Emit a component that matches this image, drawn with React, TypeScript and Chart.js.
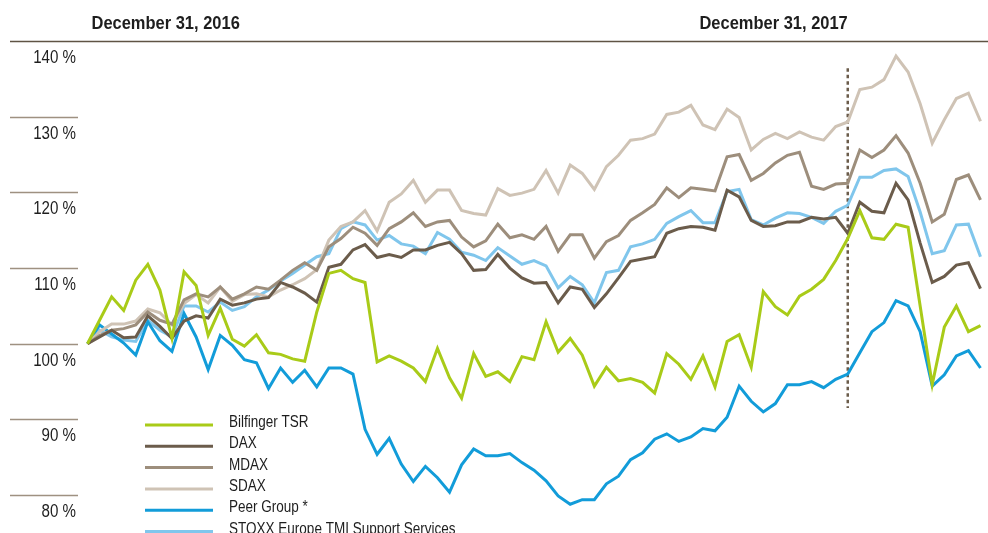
import React, { useEffect, useRef } from "react";
import { Chart, registerables } from "chart.js";

Chart.register(...registerables);

// ---- DATA ----
const bilfingerTSR = [100, 103.1, 106.2, 104.4, 108.4, 110.5, 107.1, 100.7, 109.5, 107.7, 101.1, 104.7, 100.6, 99.7, 101.2, 98.8, 98.6, 98.0, 97.7, 104.2, 109.3, 109.7, 108.6, 108.1, 97.6, 98.4, 97.7, 96.8, 95.0, 99.4, 95.5, 92.8, 98.7, 95.7, 96.3, 95.0, 98.3, 97.9, 102.9, 98.9, 100.7, 98.5, 94.4, 96.9, 95.1, 95.4, 94.9, 93.5, 98.7, 97.3, 95.3, 98.4, 94.3, 100.3, 101.2, 96.9, 106.9, 104.9, 103.8, 106.3, 107.2, 108.5, 111.0, 113.9, 117.6, 114.0, 113.8, 115.8, 115.4, 105.0, 94.6, 102.2, 105.0, 101.6, 102.4];
const dax = [100, 100.9, 101.8, 100.8, 100.9, 103.7, 102.3, 100.7, 103.0, 103.7, 103.4, 105.9, 105.1, 105.4, 105.9, 106.1, 108.1, 107.5, 106.7, 105.5, 110.1, 110.5, 112.4, 113.1, 111.4, 111.8, 111.4, 112.4, 112.4, 113.0, 113.4, 111.9, 109.7, 109.8, 111.8, 110.0, 108.7, 108.0, 108.1, 105.4, 107.5, 107.2, 104.8, 106.6, 108.7, 110.9, 111.2, 111.5, 114.6, 115.2, 115.5, 115.4, 115.0, 120.3, 119.4, 116.3, 115.5, 115.6, 116.1, 116.1, 116.7, 116.5, 116.7, 114.6, 118.7, 117.5, 117.3, 121.2, 119.0, 113.3, 108.1, 108.9, 110.4, 110.7, 107.3];
const mdax = [100, 101.1, 101.8, 102.0, 102.5, 104.2, 103.1, 102.6, 105.8, 106.6, 106.2, 107.5, 105.9, 106.6, 107.5, 107.2, 108.4, 109.7, 110.7, 109.7, 112.8, 113.9, 115.4, 114.6, 113.0, 115.2, 116.1, 117.3, 115.5, 116.1, 116.3, 114.1, 112.8, 113.6, 115.8, 114.0, 114.4, 113.8, 115.5, 112.2, 114.4, 114.4, 111.3, 113.5, 114.3, 116.3, 117.3, 118.4, 120.6, 119.3, 120.6, 120.4, 120.2, 124.7, 125.0, 121.6, 122.5, 123.9, 124.9, 125.3, 120.8, 120.4, 121.1, 121.2, 125.6, 124.6, 125.6, 127.5, 125.2, 121.2, 116.1, 117.1, 121.7, 122.3, 119.0];
const sdax = [100, 101.6, 102.6, 102.6, 103.0, 104.6, 104.1, 102.5, 105.3, 106.5, 105.4, 107.5, 105.6, 106.5, 106.6, 106.2, 107.1, 107.8, 108.6, 109.8, 113.7, 115.5, 116.1, 117.6, 114.9, 118.7, 119.8, 121.6, 118.7, 120.3, 120.3, 117.6, 117.2, 117.0, 120.5, 119.6, 119.9, 120.4, 122.9, 119.9, 123.6, 122.5, 120.4, 123.4, 124.9, 126.9, 127.1, 127.7, 130.3, 130.6, 131.5, 128.9, 128.3, 131.0, 129.9, 125.6, 127.0, 127.8, 127.1, 128.0, 127.3, 126.9, 128.7, 129.3, 133.6, 133.9, 134.9, 138.0, 135.9, 131.7, 126.5, 129.6, 132.4, 133.1, 129.4];
const peerGroup = [100, 102.5, 101.3, 100.1, 98.5, 102.9, 100.4, 99.0, 104.0, 100.9, 96.6, 101.1, 99.8, 97.9, 97.5, 94.1, 96.8, 94.9, 96.5, 94.3, 96.8, 96.8, 96.0, 88.7, 85.4, 87.5, 84.1, 81.8, 83.8, 82.3, 80.4, 84.0, 86.1, 85.2, 85.2, 85.5, 84.3, 83.3, 81.9, 79.9, 78.8, 79.4, 79.4, 81.5, 82.5, 84.7, 85.6, 87.4, 88.1, 87.1, 87.7, 88.8, 88.5, 90.3, 94.4, 92.4, 91.0, 92.1, 94.6, 94.6, 95.0, 94.2, 95.3, 96.0, 98.8, 101.6, 102.8, 105.7, 105.0, 101.6, 94.4, 95.9, 98.4, 99.1, 96.8];
const stoxxSupport = [100, 101.8, 100.9, 100.5, 100.3, 103.1, 101.8, 100.9, 105.0, 105.0, 104.2, 105.5, 104.4, 104.9, 106.2, 107.1, 108.3, 109.3, 110.4, 111.5, 111.9, 115.2, 116.1, 115.7, 113.7, 114.3, 113.2, 112.9, 111.9, 114.7, 113.8, 112.1, 111.7, 111.0, 112.7, 111.6, 110.5, 111.0, 110.3, 107.4, 108.9, 107.8, 105.4, 109.4, 109.7, 112.8, 113.2, 113.8, 115.9, 116.8, 117.6, 116.0, 116.0, 120.1, 120.4, 116.4, 115.7, 116.6, 117.3, 117.2, 116.7, 115.9, 117.5, 118.3, 122.0, 122.0, 122.9, 123.1, 122.1, 117.4, 111.9, 112.3, 115.7, 115.8, 111.5];

const seriesNames = ["Bilfinger TSR", "DAX", "MDAX", "SDAX", "Peer Group *", "STOXX Europe TMI Support Services"];
const periods = bilfingerTSR.map((_, i) => String(i));

const yTickValues = [80, 90, 100, 110, 120, 130, 140];
const yTickLabels = ["80 %", "90 %", "100 %", "110 %", "120 %", "130 %", "140 %"];
const headerLabels = ["December 31, 2016", "December 31, 2017"];
const headerIndices = [0, 63];
const markerIndex = 63;
const markerFrom = 91.5;
const markerTo = 136.4;

// ---- STYLE ----
const COLORS = ["#a9cb18", "#6b5c4b", "#9d8e7c", "#cfc3b5", "#129cd9", "#80c6ec"];
const FACE = '"Liberation Sans", Arial, sans-serif';
const TEXT_COLOR = "#1e1e1e";

function narrowText(ctx: CanvasRenderingContext2D, text: string, x: number, y: number, align: CanvasTextAlign, font: string, sx: number) {
  ctx.save();
  ctx.translate(x, y);
  ctx.scale(sx, 1);
  ctx.font = font;
  ctx.fillStyle = TEXT_COLOR;
  ctx.textAlign = align;
  ctx.textBaseline = "alphabetic";
  ctx.fillText(text, 0, 0);
  ctx.restore();
}

const decorPlugin = {
  id: "decor",
  beforeDatasetsDraw(chart: any) {
    const ctx = chart.ctx;
    const ys = chart.scales.y;
    const xs = chart.scales.x;
    ctx.save();
    yTickValues.forEach((v, i) => {
      const py = Math.round(ys.getPixelForValue(v)) + 0.5;
      const isTop = i === yTickValues.length - 1;
      ctx.strokeStyle = isTop ? "#5f5444" : "#9e9181";
      ctx.lineWidth = 1.5;
      ctx.beginPath();
      ctx.moveTo(10, py);
      ctx.lineTo(isTop ? chart.width : 78, py);
      ctx.stroke();
      narrowText(ctx, yTickLabels[i], 76, py + 21.5, "right", `18px ${FACE}`, 0.84);
    });
    // dashed marker at December 31, 2017
    const mx = xs.getPixelForValue(markerIndex);
    ctx.strokeStyle = "#6b5c4b";
    ctx.lineWidth = 2.5;
    ctx.setLineDash([3.5, 3]);
    ctx.beginPath();
    ctx.moveTo(mx, ys.getPixelForValue(markerTo));
    ctx.lineTo(mx, ys.getPixelForValue(markerFrom));
    ctx.stroke();
    ctx.setLineDash([]);
    ctx.restore();
  },
  afterDatasetsDraw(chart: any) {
    const ctx = chart.ctx;
    const xs = chart.scales.x;
    ctx.save();
    headerLabels.forEach((t, i) => {
      const px = xs.getPixelForValue(headerIndices[i]);
      narrowText(ctx, t, i === 0 ? px + 4 : px, 28.5, i === 0 ? "left" : "right", `bold 18.5px ${FACE}`, 0.89);
    });
    chart.data.datasets.forEach((ds: any, i: number) => {
      const ly = 425 + i * 21.3;
      ctx.strokeStyle = ds.borderColor;
      ctx.lineWidth = 3;
      ctx.beginPath();
      ctx.moveTo(145, ly);
      ctx.lineTo(213, ly);
      ctx.stroke();
      narrowText(ctx, ds.label, 229, ly + 2, "left", `16.3px ${FACE}`, 0.83);
    });
    ctx.restore();
  },
};

export default function App() {
  const ref = useRef<HTMLCanvasElement | null>(null);
  useEffect(() => {
    document.body.style.margin = "0";
    const seriesValues = [bilfingerTSR, dax, mdax, sdax, peerGroup, stoxxSupport];
    const chart = new Chart(ref.current as HTMLCanvasElement, {
      type: "line",
      data: {
        labels: periods,
        datasets: seriesValues.map((vals, i) => ({
          label: seriesNames[i],
          data: vals,
          borderColor: COLORS[i],
          backgroundColor: COLORS[i],
          borderWidth: 3,
          pointRadius: 0,
          tension: 0,
          clip: false as any,
          borderJoinStyle: "miter" as const,
        })),
      },
      options: {
        animation: false,
        responsive: false,
        layout: { padding: { left: 87.5, right: 7.5, top: 41, bottom: 0 } },
        scales: {
          x: { display: false, offset: false },
          y: { display: false, min: 75, max: 140 },
        },
        plugins: { legend: { display: false }, tooltip: { enabled: false } },
      },
      plugins: [decorPlugin],
    });
    return () => chart.destroy();
  }, []);
  return <canvas ref={ref} width={988} height={533} style={{ display: "block" }} />;
}
